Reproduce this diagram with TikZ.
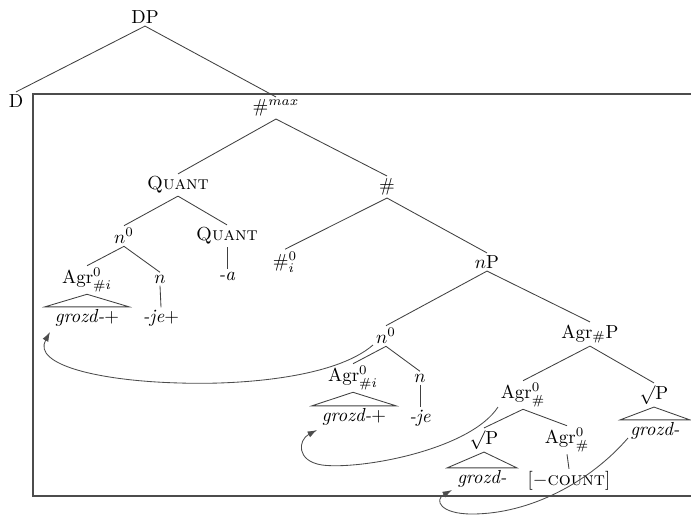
\documentclass[tikz,border=0pt]{standalone}
\usetikzlibrary{arrows.meta}
\begin{document}
\begin{tikzpicture}[x=0.53pt,y=-0.53pt,
  lbl/.style={inner sep=1.2pt},
  edge/.style={draw=black!75, line width=0.45pt},
  frame/.style={draw=black!70, line width=0.6pt},
  mv/.style={draw=black!70, line width=0.45pt, -{Latex[length=5pt,width=3.4pt]}}]
\useasboundingbox (0,0) rectangle (691,516);

% outer frame around the #max projection
\draw[frame] (691,94) -- (33,94) -- (33,496) -- (691,496);

% labels
\node[lbl] (dp)     at (145,17)  {DP};
\node[lbl] (d)      at (16,101)  {D};
\node[lbl] (hmax)   at (276,108) {$\#^{max}$};
\node[lbl] (quanta) at (178,185) {\textsc{Quant}};
\node[lbl] (hash)   at (387,187) {$\#$};
\node[lbl] (n0a)    at (124,236) {$n^0$};
\node[lbl] (quantb) at (227,236) {\textsc{Quant}};
\node[lbl] (hash0)  at (285,262) {$\#^0_i$};
\node[lbl] (np)     at (487,262) {$n$P};
\node[lbl] (agra)   at (87,280)  {Agr$^0_{\#i}$};
\node[lbl] (na)     at (160,279) {$n$};
\node[lbl] (sufa)   at (227,276) {\textit{-a}};
\node[lbl] (grozda) at (87,318)  {\textit{grozd-}+};
\node[lbl] (jea)    at (161,318) {\textit{-je}+};
\node[lbl] (n0b)    at (386,336) {$n^0$};
\node[lbl] (agrp)   at (590,334) {Agr$_{\#}$P};
\node[lbl] (agrb)   at (353,378) {Agr$^0_{\#i}$};
\node[lbl] (nb)     at (420,378) {$n$};
\node[lbl] (grozdb) at (354,417) {\textit{grozd-}+};
\node[lbl] (jeb)    at (420,418) {\textit{-je}};
\node[lbl] (agrc)   at (523,395) {Agr$^0_{\#}$};
\node[lbl] (rootp)  at (654,395) {$\surd$P};
\node[lbl] (grozdc) at (655,431) {\textit{grozd-}};
\node[lbl] (rootpb) at (484,440) {$\surd$P};
\node[lbl] (agrd)   at (567,440) {Agr$^0_{\#}$};
\node[lbl] (grozdd) at (482,479) {\textit{grozd-}};
\node[lbl] (count)  at (569,481) {[$-$\textsc{count}]};

% branches
\draw[edge] (dp.south) -- (d.north);
\draw[edge] (dp.south) -- (hmax.north);
\draw[edge] (hmax.south) -- (quanta.north);
\draw[edge] (hmax.south) -- (hash.north);
\draw[edge] (quanta.south) -- (n0a.north);
\draw[edge] (quanta.south) -- (quantb.north);
\draw[edge] (quantb.south) -- (sufa.north);
\draw[edge] (hash.south) -- (hash0.north);
\draw[edge] (hash.south) -- (np.north);
\draw[edge] (n0a.south) -- (agra.north);
\draw[edge] (n0a.south) -- (na.north);
\draw[edge] (na.south) -- (jea.north);
\draw[edge] (np.south) -- (n0b.north);
\draw[edge] (np.south) -- (agrp.north);
\draw[edge] (n0b.south) -- (agrb.north);
\draw[edge] (n0b.south) -- (nb.north);
\draw[edge] (nb.south) -- (jeb.north);
\draw[edge] (agrp.south) -- (agrc.north);
\draw[edge] (agrp.south) -- (rootp.north);
\draw[edge] (agrc.south) -- (rootpb.north);
\draw[edge] (agrc.south) -- (agrd.north);
\draw[edge] (agrd.south) -- (count.north);

% roofs
\draw[edge] (agra.south) -- ([xshift=-4pt]grozda.north west) -- ([xshift=4pt]grozda.north east) -- cycle;
\draw[edge] (agrb.south) -- ([xshift=-4pt]grozdb.north west) -- ([xshift=4pt]grozdb.north east) -- cycle;
\draw[edge] (rootp.south) -- ([xshift=-4pt]grozdc.north west) -- ([xshift=4pt]grozdc.north east) -- cycle;
\draw[edge] (rootpb.south) -- ([xshift=-4pt]grozdd.north west) -- ([xshift=4pt]grozdd.north east) -- cycle;

% movement arrows
\coordinate (m1s) at (373,345);
\coordinate (m1e) at (50,332);
\coordinate (m2s) at (498,407);
\coordinate (m2e) at (317,430);
\coordinate (m3s) at (628,438);
\coordinate (m3e) at (452,490);
\draw[mv] (m1s) .. controls (335,378) and (240,385) .. (180,383)
                 .. controls (100,381) and (32,365) .. (m1e);
\draw[mv] (m2s) .. controls (470,450) and (360,470) .. (322,465)
                 .. controls (296,461) and (298,440) .. (m2e);
\draw[mv] (m3s) .. controls (590,482) and (530,514) .. (472,514)
                 .. controls (440,514) and (434,500) .. (m3e);
\end{tikzpicture}
\end{document}
